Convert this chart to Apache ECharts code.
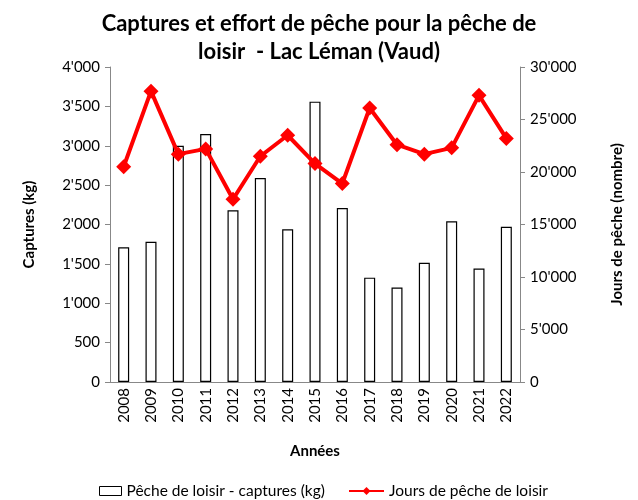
<!DOCTYPE html>
<html>
<head>
<meta charset="utf-8">
<script src="https://cdn.jsdelivr.net/npm/echarts@6/dist/echarts.min.js"></script>
<style>
  html, body { margin: 0; padding: 0; background: #fff; }
  #main { width: 638px; height: 500px; }
</style>
</head>
<body>
<div id="main"></div>
<script>
var years = ['2008', '2009', '2010', '2011', '2012', '2013', '2014', '2015',
  '2016', '2017', '2018', '2019', '2020', '2021', '2022'];
// captures (kg)
var captures = [1710, 1780, 3000, 3150, 2180, 2590, 1940, 3560,
  2210, 1325, 1200, 1515, 2040, 1440, 1970];
// jours de pêche (nombre)
var jours = [20500, 27700, 21700, 22200, 17400, 21500, 23500, 20800,
  18900, 26100, 22600, 21700, 22300, 27300, 23200];

var fontFam = 'Lato, "Open Sans", sans-serif';

function milliers(v) {
  return String(v).replace(/\B(?=(\d{3})+(?!\d))/g, "'");
}

var chartDom = document.getElementById('main');
var myChart = echarts.init(chartDom);
var option;

option = {
  animation: false,
  textStyle: { fontFamily: fontFam, color: '#000' },
  title: {
    text: 'Captures et effort de pêche pour la pêche de\nloisir  - Lac Léman (Vaud)',
    left: 'center',
    top: 5,
    textStyle: { fontSize: 22, fontWeight: 'bold', color: '#000', lineHeight: 28, fontFamily: fontFam }
  },
  grid: { left: 110, right: 118, top: 67, bottom: 118 },
  legend: [
    {
      left: 94,
      top: 478,
      textStyle: { fontSize: 15.5, color: '#000' },
      data: [
        { name: 'Pêche de loisir - captures (kg)', icon: 'rect',
          itemStyle: { color: '#fff', borderColor: '#000', borderWidth: 1 } }
      ],
      itemWidth: 22,
      itemHeight: 9
    },
    {
      left: 343,
      top: 478,
      textStyle: { fontSize: 15.5, color: '#000' },
      data: [{ name: 'Jours de pêche de loisir' }],
      itemWidth: 35,
      itemHeight: 10
    }
  ],
  xAxis: {
    type: 'category',
    data: years,
    name: 'Années',
    nameLocation: 'middle',
    nameGap: 62,
    nameTextStyle: { fontSize: 15, fontWeight: 'bold', color: '#000' },
    axisLine: { lineStyle: { color: '#888' } },
    axisTick: { lineStyle: { color: '#888' } },
    axisLabel: { rotate: 90, fontSize: 15, color: '#000', margin: 6 }
  },
  yAxis: [
    {
      type: 'value',
      min: 0, max: 4000, interval: 500,
      name: 'Captures (kg)',
      nameLocation: 'middle',
      nameRotate: 90,
      nameGap: 73,
      nameTextStyle: { fontSize: 15, fontWeight: 'bold', color: '#000' },
      splitLine: { show: false },
      axisLine: { show: true, lineStyle: { color: '#888' } },
      axisTick: { show: true, lineStyle: { color: '#888' } },
      axisLabel: { fontSize: 15, color: '#000', margin: 10, formatter: milliers }
    },
    {
      type: 'value',
      min: 0, max: 30000, interval: 5000,
      name: 'Jours de pêche (nombre)',
      nameLocation: 'middle',
      nameRotate: 90,
      nameGap: 90,
      nameTextStyle: { fontSize: 15, fontWeight: 'bold', color: '#000' },
      splitLine: { show: false },
      axisLine: { show: true, lineStyle: { color: '#888' } },
      axisTick: { show: true, lineStyle: { color: '#888' } },
      axisLabel: { fontSize: 15, color: '#000', margin: 10, formatter: milliers }
    }
  ],
  series: [
    {
      name: 'Pêche de loisir - captures (kg)',
      type: 'bar',
      data: captures,
      barWidth: 11,
      itemStyle: { color: '#fff', borderColor: '#000', borderWidth: 1.2 }
    },
    {
      name: 'Jours de pêche de loisir',
      type: 'line',
      yAxisIndex: 1,
      data: jours,
      symbol: 'diamond',
      symbolSize: 15,
      lineStyle: { color: '#ff0000', width: 4 },
      itemStyle: { color: '#ff0000' }
    }
  ]
};

option && myChart.setOption(option);
</script>
</body>
</html>
